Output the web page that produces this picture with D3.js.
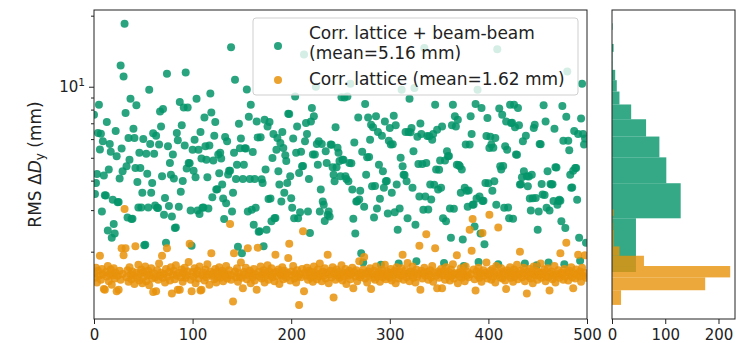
<!DOCTYPE html>
<html><head><meta charset="utf-8">
<script src="https://cdn.jsdelivr.net/npm/d3@7"></script>
<style>body{margin:0;background:#fff}svg{display:block}text{font-family:"DejaVu Sans",sans-serif;fill:#222}</style>
</head><body><svg id="c" width="741" height="343"></svg>
<script>
// RMS ΔDy (mm) per seed index, corrected lattice + beam-beam
const greenValues = [
7.61,3.51,3.91,4.27,6.37,8.39,5.42,6.32,2.96,5.87,4.21,3.47,3.46,
7.08,2.46,4.46,5.72,5.30,2.29,3.32,2.62,2.39,6.50,5.08,3.24,3.25,
4.08,12.3,5.47,4.38,11.06,18.5,7.73,4.60,2.79,6.06,4.91,8.90,2.75,2.76,
6.63,6.06,4.53,8.34,3.95,3.08,5.25,4.53,3.08,3.55,6.00,2.13,2.14,
5.20,4.28,3.08,9.71,5.72,3.55,3.91,6.35,5.20,3.14,6.20,3.07,3.06,
5.69,7.86,6.79,4.17,8.04,2.87,3.38,2.18,11.34,5.60,3.12,4.75,4.24,2.82,5.16,4.08,2.52,2.53,
6.37,5.93,3.10,8.61,3.59,6.86,3.99,8.17,5.64,11.5,4.50,8.17,4.75,4.74,
2.99,2.12,5.41,4.41,5.96,4.13,8.90,2.99,5.41,2.89,6.43,4.96,3.07,3.08,
7.41,5.60,4.91,4.13,3.05,5.64,9.37,7.78,3.40,4.87,6.20,7.08,3.67,3.68,
5.16,4.30,5.25,4.96,3.85,3.36,2.75,6.13,3.21,5.87,4.25,4.41,4.40,14.7,
2.96,3.55,5.25,10.7,4.06,4.67,2.10,6.97,5.48,6.03,1.97,4.06,4.67,5.48,5.47,
9.74,2.96,7.46,4.06,8.39,3.01,5.29,2.60,4.06,3.07,7.13,6.10,2.43,2.44,6.11,4.05,
3.91,2.11,7.25,4.46,2.48,6.79,3.34,7.08,3.36,2.69,4.99,6.31,2.77,2.78,
5.41,6.06,4.38,3.85,5.77,3.26,6.43,5.50,3.55,5.13,4.84,3.91,7.68,7.66,
4.17,3.37,3.07,6.03,2.77,9.10,5.25,6.79,2.77,4.31,2.94,5.30,4.60,4.61,
13.7,5.87,7.02,6.31,2.96,4.06,2.40,7.13,8.12,5.16,7.49,5.16,10.0,5.72,
4.67,5.87,2.96,3.67,5.72,3.26,3.16,2.70,5.33,4.75,2.87,2.96,2.82,5.69,5.68,
4.56,4.24,3.98,6.73,4.56,5.52,5.25,4.84,4.17,9.02,4.91,4.90,9.01,4.18,
4.06,9.10,3.98,4.75,10.3,4.74, 3.67,2.76,5.81,2.39,3.26,3.27, 7.41,3.33,3.62,1.97,5.30,1.80,
3.10,8.45,4.24,5.03,7.41,5.04, 5.96,6.90,3.79,6.73,2.79,3.80, 7.49,3.05,6.43,4.67,3.35,1.76,
6.20,4.38,3.73,7.13,3.98,3.99, 2.90,5.91,6.68,5.69,3.55,5.70, 7.54,2.94,6.86,3.85,2.48,1.78,
3.05,5.00,9.71,4.60,4.24,4.23, 6.43,3.98,2.77,6.43,8.90,6.42, 6.68,3.73,5.33,9.87,2.60,1.82,
6.14,4.71,3.43,6.99,6.31,4.70, 3.01,14.6,3.43,4.75,6.18,3.02,6.17,
3.85,3.33,5.96,6.31,3.84, 8.39,4.46,6.57,3.67,4.45, 4.87,3.73,6.79,2.77,1.79, 4.87,2.69,5.33,5.08,5.09,
3.05,2.29,6.86,8.39,3.04, 7.49,6.79,4.67,7.25,4.66, 4.60,3.55,4.46,2.25,1.74, 3.73,5.69,3.62,3.10,3.63,
5.69,7.49,6.31,3.16,3.17, 2.56,8.45,3.36,9.71,1.81, 3.43,2.39,8.12,3.28,3.29, 2.15,3.91,6.18,7.37,3.90,
5.50,6.14,5.69,3.62,5.51, 3.98,6.06,3.16,14.4,1.77, 8.09,4.60,4.46,7.61,4.61, 3.07,5.60,7.13,5.41,3.08,
2.77,8.39,7.02,7.03,2.76,
8.39,6.73,5.16,5.15, 8.12,6.86,3.85,3.86, 4.13,5.87,4.38,1.78, 6.20,4.17,3.79,4.16,
3.36,2.99,4.24,3.37, 6.68,6.90,3.38,1.75, 2.48,2.96,5.72,5.71, 3.87,3.49,8.34,3.48,
7.13,3.07,4.38,1.80, 2.99,3.87,3.85,3.86, 3.28,6.63,4.56,4.55, 3.16,3.28,3.32,3.29,
2.69,8.28,5.91,1.77, 2.52,7.46,11.6,5.90, 5.38,4.24,3.73,3.74, 4.41,6.50,4.53,4.52,
3.32,6.31,2.29,1.83, 7.33,10.3,6.31,5.69,6.03,2.18
];
// RMS ΔDy (mm) per seed index, corrected lattice only
const orangeValues = [
1.62,1.55,1.71,1.48,1.66,1.58,1.92,1.52,1.69,1.60,
1.39,1.38,1.64,1.57,1.74,1.50,1.61,1.68,1.45,1.59,
1.70,1.54,1.63,1.36,1.58,1.38,1.66,1.52,2.07,1.61,
1.93,3.03,2.07,1.56,1.67,1.49,1.72,1.60,1.53,1.65,
1.58,1.46,2.11,1.63,1.55,1.76,1.51,1.62,1.68,1.47,
1.64,1.57,1.73,1.50,1.60,1.66,1.44,1.59,1.70,1.54,
1.35,1.62,1.56,1.36,1.67,1.52,1.78,1.58,1.63,1.92,
1.55,1.61,1.48,1.69,2.07,1.57,1.64,1.51,1.72,1.33,
1.60,1.66,1.53,1.75,1.58,1.38,1.63,1.38,1.56,1.68,
1.49,1.62,1.71,1.55,1.59,1.65,1.81,2.16,1.52,1.36,
1.64,1.57,1.70,1.47,1.61,1.66,1.54,1.73,1.37,1.38,
1.59,1.63,1.51,1.68,1.56,1.77,1.60,1.45,1.65,1.97,
1.58,1.62,1.53,1.69,1.48,1.64,1.57,1.72,1.55,1.61,
1.66,1.50,1.63,1.58,1.74,1.54,1.60,1.67,2.62,1.52,
1.59,1.23,1.97,1.65,1.56,1.70,1.49,1.62,1.57,1.80,
1.55,1.40,1.64,1.60,1.71,1.53,2.07,1.58,1.66,1.47,
1.62,1.56,1.69,1.51,1.60,1.38,2.08,1.64,1.57,1.73,
1.54,1.61,1.67,1.48,1.63,1.58,1.75,1.52,1.65,1.59,
1.70,1.56,1.62,1.50,1.94,1.64,1.57,1.68,1.46,1.61,
1.58,1.72,1.53,1.66,1.60,1.55,1.63,1.88,2.16,1.51,
1.65,1.59,1.74,1.54,1.62,1.48,1.67,1.57,1.19,1.61,
1.56,1.69,2.44,1.36,1.63,1.58,1.71,1.52,1.66,1.60,
1.55,1.64,1.49,1.73,1.59,1.62,1.53,1.68,1.57,1.78,
1.61,1.50,1.65,1.58,1.70,1.54,1.63,1.94,1.47,1.60,
1.66,1.56,1.72,1.28,1.62,1.52,1.68,1.59,1.64,1.55,
1.60,1.75,1.51,1.63,1.57,1.69,1.46,1.62,1.58,1.66,
1.53,1.61,1.71,1.40,1.64,1.57,1.67,1.50,1.60,1.82,
1.56,1.63,1.59,1.68,1.90,1.54,1.62,1.48,1.65,1.58,
1.70,1.39,1.61,1.55,1.66,1.52,1.73,1.60,1.57,1.64,
1.49,1.62,1.68,1.56,1.60,1.76,1.53,1.65,1.58,1.63,
1.55,1.69,1.51,1.62,1.59,1.66,1.47,1.72,1.60,1.54,
1.64,1.58,1.70,1.94,1.52,1.61,1.67,1.56,1.79,1.62,
1.50,1.65,1.59,1.73,1.55,1.63,1.48,1.68,1.57,1.61,
2.12,1.38,1.66,1.54,1.62,1.71,1.58,2.37,1.64,1.52,
1.60,1.67,1.56,1.74,1.49,1.63,2.07,1.58,1.40,1.65,
1.55,1.62,1.69,1.40,1.59,1.66,1.52,1.72,1.61,1.57,
1.64,1.51,1.68,1.58,1.77,1.54,1.62,1.60,1.93,1.47,
1.63,1.57,1.70,1.55,1.66,1.60,1.50,1.73,1.58,1.64,
1.56,2.48,1.61,2.02,2.75,1.68,1.53,1.37,1.65,1.59,
1.71,1.55,1.62,1.49,2.40,1.67,1.58,1.63,1.80,1.54,
1.60,2.87,1.66,1.52,1.69,1.57,1.63,1.48,1.74,1.59,
2.53,1.62,1.56,1.70,1.54,1.65,1.60,1.51,1.39,1.67,
1.58,1.63,1.72,1.55,1.61,1.49,1.68,1.57,1.64,1.76,
1.53,1.60,2.00,1.66,1.56,1.62,1.71,1.50,1.59,1.33,
1.65,1.57,1.69,1.54,1.62,1.47,1.73,1.60,1.58,1.66,
1.52,1.64,1.59,1.78,1.55,1.63,1.61,1.68,1.50,1.57,
1.70,1.56,1.37,1.62,1.65,1.53,1.59,1.74,1.48,1.61,
1.58,1.67,1.55,1.97,1.63,1.60,1.52,1.69,1.57,2.18,
1.64,1.51,1.66,1.59,1.72,1.56,1.40,1.62,1.54,1.68,
1.60,1.94,1.57,1.65,1.49,1.71,1.58,1.63,1.93,1.55
];
// marginal histograms (linear bins, counts)
const greenBinEdges = [1.64,2.77,3.90,5.02,6.15,7.28,8.41,9.54,10.66,11.79,12.92,14.05,15.18,16.30,17.43,18.56];
const greenCounts = [45,129,102,89,64,36,14,9,6,1,1,3,0,0,1];
const orangeBinEdges = [1.19,1.373,1.556,1.739,1.922,2.105,2.288,2.471,2.654,2.837,3.02];
const orangeCounts = [17,175,222,60,14,3,3,2,1,3];

const xTicks = [0,100,200,300,400,500];
const yMajorTicks = [10];
const yMinorTicks = [2,3,4,5,6,7,8,9,20];
const histTicks = [0,100,200];
const seriesNames = [["Corr. lattice + beam-beam","(mean=5.16 mm)"],["Corr. lattice (mean=1.62 mm)"]];
const colors = ["#039468","#e8920a"];

const svg = d3.select("#c");
const L=94,R=587,T=10,B=319, HL=612, HR=735;
const x = d3.scaleLinear().domain([0,500]).range([L,R]);
const y = d3.scaleLog().domain([1.037,21.14]).range([B,T]);
const hx = d3.scaleLinear().domain([0,231]).range([HL,HR]);

svg.append("defs").append("clipPath").attr("id","clipMain")
  .append("rect").attr("x",L).attr("y",T).attr("width",R-L).attr("height",B-T);
svg.append("defs").append("clipPath").attr("id","clipHist")
  .append("rect").attr("x",HL).attr("y",T).attr("width",HR-HL).attr("height",B-T);

// scatter
const sc = svg.append("g").attr("clip-path","url(#clipMain)");
[greenValues, orangeValues].forEach((vals,k)=>{
  sc.append("g").selectAll("circle").data(vals).join("circle")
    .attr("cx",(d,i)=>x(i)).attr("cy",d=>y(d)).attr("r",4.0)
    .attr("fill",colors[k]).attr("fill-opacity",0.85);
});

// histograms
const hg = svg.append("g").attr("clip-path","url(#clipHist)");
[[greenBinEdges,greenCounts],[orangeBinEdges,orangeCounts]].forEach(([edges,counts],k)=>{
  hg.append("g").selectAll("rect").data(counts).join("rect")
    .attr("x",hx(0)).attr("y",(d,i)=>y(edges[i+1]))
    .attr("width",d=>hx(d)-hx(0)).attr("height",(d,i)=>y(edges[i])-y(edges[i+1]))
    .attr("fill",colors[k]).attr("fill-opacity",0.8);
});

// axes
function styleAxis(g){ g.select(".domain").remove(); g.selectAll("line").attr("stroke","#222").attr("stroke-width",1);
  g.selectAll("text").style("font-size","15px").attr("fill","#222").style("font-family","DejaVu Sans"); }
svg.append("g").attr("transform",`translate(0,${B})`)
  .call(d3.axisBottom(x).tickValues(xTicks).tickSize(5).tickPadding(5).tickFormat(d3.format("d"))).call(styleAxis);
svg.append("g").attr("transform",`translate(0,${B})`)
  .call(d3.axisBottom(hx).tickValues(histTicks).tickSize(5).tickPadding(5).tickFormat(d3.format("d"))).call(styleAxis);
svg.append("g").attr("transform",`translate(${L},0)`)
  .call(d3.axisLeft(y).tickValues(yMajorTicks).tickSize(5).tickFormat("")).call(styleAxis);
svg.append("g").attr("transform",`translate(${L},0)`)
  .call(d3.axisLeft(y).tickValues(yMinorTicks).tickSize(3).tickFormat("")).call(styleAxis);
yMajorTicks.forEach(v=>{
  const t = svg.append("text").attr("x",L-9).attr("y",y(v)+5.5).attr("text-anchor","end").style("font-size","15px");
  t.append("tspan").text("10");
  t.append("tspan").attr("dy",-6.5).style("font-size","10.5px").text(Math.round(Math.log10(v)));
});

// frames
svg.append("rect").attr("x",L).attr("y",T).attr("width",R-L).attr("height",B-T).attr("fill","none").attr("stroke","#222").attr("stroke-width",1);
svg.append("rect").attr("x",HL).attr("y",T).attr("width",HR-HL).attr("height",B-T).attr("fill","none").attr("stroke","#222").attr("stroke-width",1);

// y label
const yl = svg.append("text").attr("transform",`translate(41,${(T+B)/2}) rotate(-90)`).attr("text-anchor","middle").style("font-size","17px");
yl.append("tspan").text("RMS Δ");
yl.append("tspan").style("font-style","italic").text("D");
yl.append("tspan").attr("dy",3).style("font-size","12px").text("y");
yl.append("tspan").attr("dy",-3).text(" (mm)");

// legend
const lg = svg.append("g");
lg.append("rect").attr("x",253).attr("y",18).attr("width",325).attr("height",77).attr("rx",3)
  .attr("fill","#fff").attr("fill-opacity",0.8).attr("stroke","#cfcfcf").attr("stroke-width",1);
const markerY=[46,80], lineY=[[39,58.5],[85]];
seriesNames.forEach((lines,k)=>{
  lg.append("circle").attr("cx",278).attr("cy",markerY[k]).attr("r",4.0).attr("fill",colors[k]).attr("fill-opacity",0.85);
  lines.forEach((s,j)=>lg.append("text").attr("x",309).attr("y",lineY[k][j]).style("font-size","17px").text(s));
});
</script></body></html>
